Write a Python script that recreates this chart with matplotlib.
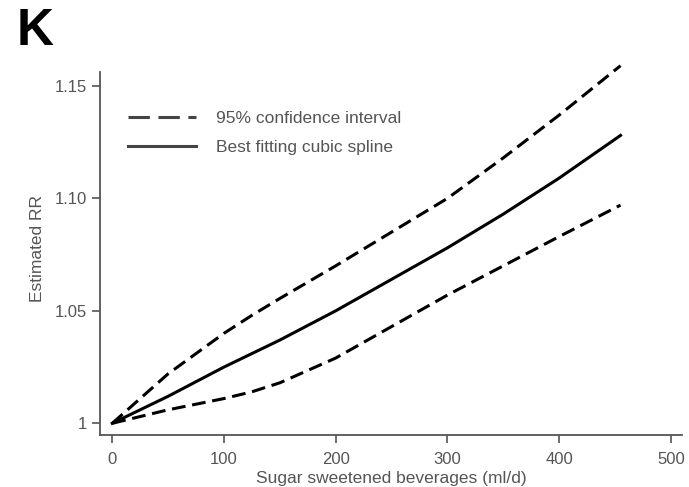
import matplotlib
matplotlib.use('Agg')
import matplotlib.pyplot as plt
from matplotlib.lines import Line2D

# Dose-response: sugar sweetened beverages (ml/d) vs estimated RR
intake = [0, 50, 100, 125, 150, 200, 250, 300, 350, 400, 455]
rr_fit = [1.000, 1.012, 1.025, 1.031, 1.037, 1.050, 1.064, 1.078, 1.093, 1.109, 1.128]
rr_upper = [1.000, 1.022, 1.040, 1.048, 1.0555, 1.070, 1.085, 1.100, 1.118, 1.137, 1.159]
rr_lower = [1.000, 1.006, 1.011, 1.014, 1.018, 1.029, 1.043, 1.057, 1.070, 1.083, 1.097]

xticks = [0, 100, 200, 300, 400, 500]
yticks = [1.0, 1.05, 1.10, 1.15]
ytick_labels = ['1', '1.05', '1.10', '1.15']

plt.rcParams['font.family'] = ['Liberation Sans', 'DejaVu Sans']
grey = '#555555'

fig = plt.figure(figsize=(6.89, 4.87), dpi=100)
ax = fig.add_axes([0.1451, 0.1068, 0.8447, 0.7454])

dash = (0, (4.5, 2.2))
ax.plot(intake, rr_upper, color='black', lw=2.2, linestyle=dash, clip_on=False)
ax.plot(intake, rr_fit, color='black', lw=2.2, clip_on=False)
ax.plot(intake, rr_lower, color='black', lw=2.2, linestyle=dash, clip_on=False)

ax.set_xlim(-11, 510)
ax.set_ylim(0.9948, 1.1562)
ax.set_xticks(xticks)
ax.set_yticks(yticks)
ax.set_yticklabels(ytick_labels)

for side in ['top', 'right']:
    ax.spines[side].set_visible(False)
for side in ['left', 'bottom']:
    ax.spines[side].set_color(grey)
    ax.spines[side].set_linewidth(1.3)
ax.tick_params(colors=grey, labelcolor=grey, labelsize=12, length=6, width=1.2)
ax.tick_params(axis='x', pad=6)

ax.set_xlabel('Sugar sweetened beverages (ml/d)', fontsize=12.5, color=grey, labelpad=3)
ax.set_ylabel('Estimated RR', fontsize=12.5, color=grey, labelpad=6)
ax.yaxis.set_label_coords(-0.095, 0.515)

# legend with its own longer dashes
handles = [
    Line2D([], [], color='#444444', lw=2.2, linestyle=(0, (7, 2.8))),
    Line2D([], [], color='#444444', lw=2.2),
]
labels = ['95% confidence interval', 'Best fitting cubic spline']
leg = ax.legend(handles, labels, loc='upper left', bbox_to_anchor=(0.048, 0.894),
                frameon=False, fontsize=12.5, handlelength=3.9, handletextpad=1.2,
                labelspacing=0.8, borderpad=0, borderaxespad=0)
for txt in leg.get_texts():
    txt.set_color(grey)

fig.text(0.024, 0.985, 'K', fontsize=37, fontweight='bold', va='top', ha='left')

fig.savefig('out.png', dpi=100)
